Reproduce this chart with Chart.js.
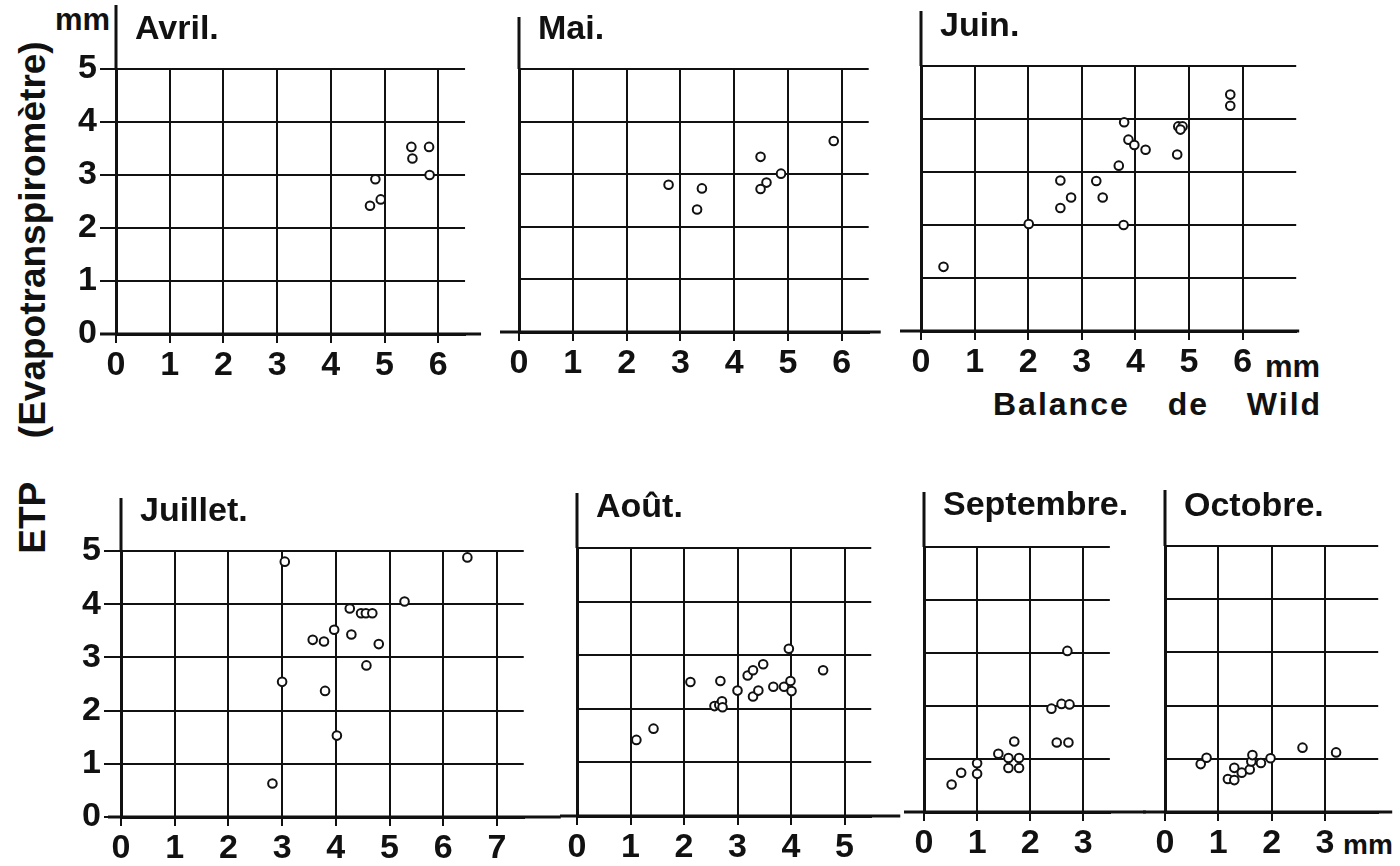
<!DOCTYPE html>
<html><head><meta charset="utf-8">
<script src="https://cdn.jsdelivr.net/npm/chart.js@4.4.1/dist/chart.umd.min.js"></script>
<style>
html,body{margin:0;padding:0;background:#fff;width:1400px;height:866px;overflow:hidden;position:relative;font-family:"Liberation Sans",Arial,sans-serif;color:#000;}
canvas{position:absolute;}
.lbl{position:absolute;font-weight:bold;white-space:nowrap;color:#111;}
</style></head><body>
<div class="lbl" style="left:55px;top:4px;font-size:31px;line-height:31px;">mm</div>
<div class="lbl" style="left:-228px;top:279px;width:520px;height:37px;font-size:37px;line-height:37px;text-align:center;word-spacing:34px;transform:rotate(-90deg);">ETP (Evapotranspiromètre)</div>
<div class="lbl" style="left:993px;top:388px;font-size:32px;line-height:32px;letter-spacing:2px;word-spacing:27px;">Balance de Wild</div>
<div class="lbl" style="left:1265px;top:351px;font-size:31px;line-height:31px;">mm</div>
<div class="lbl" style="left:1343px;top:831px;font-size:28px;line-height:28px;">mm</div>
<script>
// ---- data ----
const titles = ['Avril.', 'Mai.', 'Juin.', 'Juillet.', 'Août.', 'Septembre.', 'Octobre.'];

const avrilX = [5.50, 5.83, 5.52, 5.84, 4.83, 4.93, 4.73];
const avrilY = [3.53, 3.53, 3.31, 3.00, 2.92, 2.54, 2.42];

const maiX = [2.78, 3.40, 3.31, 4.49, 4.60, 4.49, 4.87, 5.85];
const maiY = [2.80, 2.73, 2.33, 3.33, 2.84, 2.72, 3.01, 3.63];

const juinX = [0.42, 2.01, 3.78, 2.60, 2.80, 2.60, 3.27, 3.39, 3.69, 3.79, 3.87, 3.98, 4.19, 4.78, 4.80, 4.88, 4.84, 5.77, 5.77];
const juinY = [1.21, 2.02, 2.00, 2.32, 2.52, 2.84, 2.83, 2.52, 3.12, 3.94, 3.61, 3.51, 3.42, 3.33, 3.86, 3.86, 3.80, 4.46, 4.25];

const juilletX = [2.82, 3.00, 3.05, 3.57, 3.78, 3.80, 3.97, 4.02, 4.26, 4.29, 4.47, 4.56, 4.68, 4.57, 4.80, 5.28, 6.45];
const juilletY = [0.63, 2.54, 4.80, 3.33, 3.30, 2.37, 3.52, 1.53, 3.92, 3.43, 3.83, 3.83, 3.83, 2.85, 3.25, 4.05, 4.88];

const aoutX = [1.11, 1.43, 2.12, 2.57, 2.66, 2.71, 2.72, 2.68, 3.00, 3.19, 3.29, 3.29, 3.39, 3.48, 3.67, 3.87, 3.99, 4.01, 3.96, 4.60];
const aoutY = [1.42, 1.63, 2.50, 2.05, 2.07, 2.14, 2.03, 2.52, 2.34, 2.62, 2.72, 2.23, 2.34, 2.83, 2.41, 2.41, 2.52, 2.33, 3.12, 2.72];

const septX = [0.52, 0.70, 1.00, 1.00, 1.40, 1.59, 1.79, 1.59, 1.79, 1.70, 2.40, 2.59, 2.74, 2.50, 2.72, 2.70];
const septY = [0.52, 0.74, 0.72, 0.92, 1.10, 1.02, 1.02, 0.83, 0.83, 1.33, 1.95, 2.04, 2.03, 1.31, 1.31, 3.04];

const octX = [0.67, 0.78, 1.18, 1.30, 1.30, 1.44, 1.59, 1.62, 1.64, 1.80, 1.98, 2.58, 3.21];
const octY = [0.90, 1.02, 0.62, 0.60, 0.83, 0.74, 0.80, 0.95, 1.07, 0.92, 1.01, 1.21, 1.12];

// axis ranges and last labelled tick of each panel
const xMaxes = [6.5, 6.5, 7, 7.5, 5.5, 3.5, 4];
const xTickLast = [6, 6, 6, 7, 5, 3, 3];
const yMax = 5;

// ---- layout (pixel geometry of each panel) ----
const INK = '#111';
const FONT = '"Liberation Sans", Arial, sans-serif';
const geom = [
  {x0:116, ux:53.7, y5:69,   y0:334,   top:0,   tcy:30,    axTop:5,   extL:16, extR:16, yLab:true,  yTick:16},
  {x0:519, ux:53.8, y5:69,   y0:332,   top:0,   tcy:30,    axTop:17,  extL:19, extR:12, yLab:false},
  {x0:921, ux:53.6, y5:66,   y0:331,   top:0,   tcy:27,    axTop:11,  extL:21, extR:3,  yLab:false},
  {x0:121, ux:53.7, y5:551,  y0:817,   top:470, tcy:511.5, axTop:498, extL:13, extR:37, yLab:true,  yTick:17},
  {x0:577, ux:53.5, y5:548,  y0:816,   top:470, tcy:507.5, axTop:493, extL:17, extR:29, yLab:false},
  {x0:924, ux:53.1, y5:547,  y0:812,   top:470, tcy:505.5, axTop:492, extL:20, extR:36, yLab:false},
  {x0:1165,ux:53.3, y5:546,  y0:812,   top:470, tcy:506.5, axTop:490, extL:22, extR:14, yLab:false}
];
const series = [[avrilX,avrilY],[maiX,maiY],[juinX,juinY],[juilletX,juilletY],[aoutX,aoutY],[septX,septY],[octX,octY]];

const axisExt = {
  id: 'axisExt',
  afterDraw(chart, args, o) {
    const {ctx, chartArea: a, scales: {x, y}} = chart;
    const px0 = x.getPixelForValue(0), py0 = y.getPixelForValue(0);
    ctx.save();
    ctx.strokeStyle = INK; ctx.lineWidth = 3;
    ctx.beginPath();
    ctx.moveTo(px0, o.axTop); ctx.lineTo(px0, a.top);
    ctx.moveTo(a.left - o.extL, py0); ctx.lineTo(a.right + o.extR, py0);
    ctx.stroke();
    ctx.restore();
  }
};
const titleShift = {
  id: 'titleShift',
  afterLayout(chart, args, o) {
    const t = chart.titleBlock;
    if (t) { const w = t.right - t.left; t.left = chart.chartArea.left + o.dx; t.right = t.left + w; }
  }
};

const FS_T = 34, FS_K = 34, H = 56;
geom.forEach((g, i) => {
  const xmax = xMaxes[i];
  const last = xTickLast[i];
  const W = g.yLab ? Math.round(g.x0) - 40 : 25;
  const left = Math.round(g.x0) - W;
  const plotW = xmax * g.ux;
  const R = Math.max(g.extR + 6, 12);
  const cw = Math.round(W + plotW + R);
  const padR = cw - W - plotW;
  const ch = Math.round(g.y0 - g.top + H);
  const pt = g.tcy - g.top - 0.6 * FS_T;
  const pb = (g.y5 - g.top) - pt - 1.2 * FS_T;

  const c = document.createElement('canvas');
  c.width = cw; c.height = ch;
  c.style.left = left + 'px'; c.style.top = g.top + 'px';
  c.style.width = cw + 'px'; c.style.height = ch + 'px';
  document.body.appendChild(c);

  const [xs, ys] = series[i];
  new Chart(c, {
    type: 'scatter',
    data: { datasets: [{
      data: xs.map((v, k) => ({x: v, y: ys[k]})),
      pointRadius: 4.3, pointHoverRadius: 4.3, pointBorderWidth: 2,
      pointBorderColor: INK, pointBackgroundColor: '#fff', showLine: false
    }]},
    options: {
      responsive: false, animation: false, devicePixelRatio: 1,
      layout: { padding: { top: 0, left: 0, bottom: 0, right: padR } },
      plugins: {
        legend: { display: false }, tooltip: { enabled: false },
        title: { display: true, text: titles[i], align: 'start', color: INK,
                 font: { family: FONT, size: FS_T, weight: 'bold' },
                 padding: { top: pt, bottom: pb } },
        axisExt: { axTop: g.axTop - g.top, extL: g.extL, extR: g.extR },
        titleShift: { dx: 19 }
      },
      scales: {
        x: {
          type: 'linear', min: 0, max: xmax,
          afterBuildTicks: s => { s.ticks = s.ticks.filter(t => t.value <= last); },
          ticks: { stepSize: 1, includeBounds: false, autoSkip: false, maxRotation: 0,
                   color: INK, padding: 2, font: { family: FONT, size: FS_K, weight: 'bold' } },
          grid: { color: INK, lineWidth: 2, tickLength: 9, drawTicks: true },
          border: { color: INK, width: 3 },
          afterFit: s => { s.height = H; }
        },
        y: {
          type: 'linear', min: 0, max: yMax,
          ticks: { stepSize: 1, display: g.yLab, color: INK, padding: 3,
                   font: { family: FONT, size: FS_K, weight: 'bold' } },
          grid: { color: INK, lineWidth: 2, drawTicks: g.yLab, tickLength: g.yLab ? g.yTick : 0 },
          border: { color: INK, width: 3 },
          afterFit: s => { s.width = W; }
        }
      }
    },
    plugins: [axisExt, titleShift]
  });
});
</script>
</body></html>
